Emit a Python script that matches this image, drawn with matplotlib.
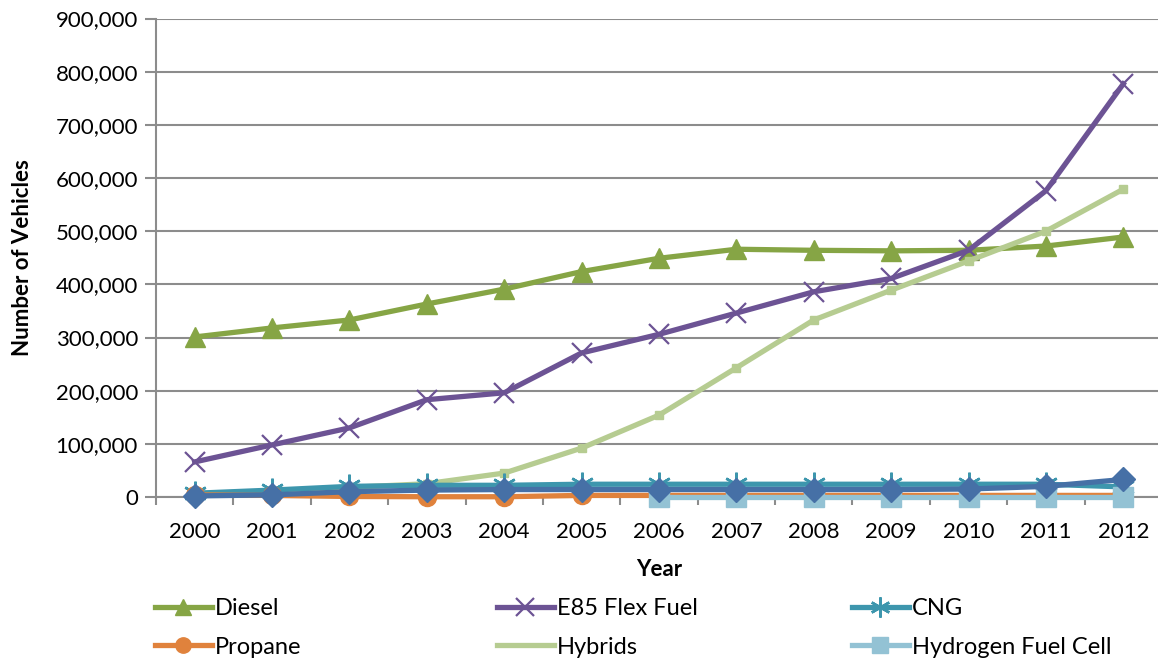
import matplotlib
matplotlib.use('Agg')
import matplotlib.pyplot as plt
from matplotlib.ticker import FuncFormatter, FixedLocator, NullFormatter

years = [2000, 2001, 2002, 2003, 2004, 2005, 2006, 2007, 2008, 2009, 2010, 2011, 2012]

diesel   = [301000, 318000, 333000, 363000, 391000, 424000, 449000, 466000, 464000, 463000, 464000, 472000, 489000]
e85      = [66000, 98000, 130000, 183000, 196000, 271000, 306000, 346000, 386000, 411000, 464000, 576000, 777000]
cng      = [7000, 13000, 20000, 22000, 22000, 24000, 24000, 24000, 24000, 24000, 24000, 24000, 19000]
propane  = [4000, 3000, 1000, 500, 500, 3000, 3000, 3000, 3000, 3000, 3000, 3000, 3000]
hybrids  = [6000, 11000, 18000, 25000, 45000, 92000, 154000, 243000, 333000, 389000, 444000, 500000, 579000]
hydrogen = [None, None, None, None, None, None, 300, 300, 300, 300, 300, 300, 300]
electric = [2000, 4000, 10000, 13000, 14000, 14000, 14000, 14000, 14000, 14000, 15000, 20000, 33000]

C_DIESEL   = '#86a545'
C_E85      = '#6c5394'
C_CNG      = '#3d96ad'
C_PROPANE  = '#e0823c'
C_HYBRIDS  = '#b6cc91'
C_HYDROGEN = '#93c2d4'
C_ELECTRIC = '#4670a6'
GRID       = '#8c8c8c'

plt.rcParams['font.family'] = ['Lato', 'DejaVu Sans']

fig = plt.figure(figsize=(11.58, 6.63), dpi=100)
ax = fig.add_axes([156 / 1158, 1 - 497 / 663, 1006 / 1158, (497 - 18.5) / 663])

x = list(range(len(years)))
hy = [float('nan') if v is None else v for v in hydrogen]
lw = 3.8
kw = dict(clip_on=False)

h_diesel, = ax.plot(x, diesel, color=C_DIESEL, lw=lw, marker='^', ms=14,
                    label='Diesel', zorder=3, **kw)
h_e85, = ax.plot(x, e85, color=C_E85, lw=lw, marker='x', ms=15, mew=1.6,
                 label='E85 Flex Fuel', zorder=4, **kw)
h_cng, = ax.plot(x, cng, color=C_CNG, lw=lw, marker=(6, 2, 0), ms=17, mew=1.8,
                 label='CNG', zorder=5, **kw)
h_prop, = ax.plot(x, propane, color=C_PROPANE, lw=lw, marker='o', ms=13,
                  label='Propane', zorder=5, **kw)
h_hyb, = ax.plot(x, hybrids, color=C_HYBRIDS, lw=lw, label='Hybrids', zorder=4.5, **kw)
ax.plot(x, hybrids, ls='none', color=C_HYBRIDS, marker='s', ms=6, zorder=4.5, **kw)
h_h2, = ax.plot(x, hy, color=C_HYDROGEN, lw=lw, marker='s', ms=14,
                label='Hydrogen Fuel Cell', zorder=6, **kw)
ax.plot(x, electric, color=C_ELECTRIC, lw=lw, marker='D', ms=12, zorder=7, **kw)

# category axis: ticks sit between years, labels under each year
ax.set_xlim(-0.5, len(years) - 0.5)
ax.xaxis.set_major_locator(FixedLocator([i - 0.5 for i in range(len(years) + 1)]))
ax.xaxis.set_major_formatter(NullFormatter())
ax.xaxis.set_minor_locator(FixedLocator(x))
ax.set_xticklabels([str(y) for y in years], minor=True)
ax.tick_params(axis='x', which='major', length=6, width=1.5, color=GRID, direction='out')
ax.tick_params(axis='x', which='minor', length=0, pad=18, labelsize=16)

ax.set_ylim(0, 900000)
ax.set_yticks(range(0, 900001, 100000))
ax.yaxis.set_major_formatter(FuncFormatter(lambda v, p: f'{int(v):,}'))
ax.tick_params(axis='y', length=8, width=1.5, color=GRID, direction='out', pad=5, labelsize=16)

ax.grid(True, axis='y', color=GRID, lw=1.5)
ax.set_axisbelow(True)
for side in ('top', 'right'):
    ax.spines[side].set_visible(False)
for side in ('left', 'bottom'):
    ax.spines[side].set_color(GRID)
    ax.spines[side].set_linewidth(1.5)

ax.set_xlabel('Year', fontsize=16, fontweight='bold', labelpad=12)
ax.set_ylabel('Number of Vehicles', fontsize=16, fontweight='bold', labelpad=16)

# three legend columns, evenly spaced under the plot
cols = [([h_diesel, h_prop], 155), ([h_e85, h_hyb], 497), ([h_cng, h_h2], 852)]
for handles, px in cols:
    fig.legend(handles=handles, labels=[h.get_label() for h in handles],
               loc='upper left', bbox_to_anchor=(px / 1158, 1 - 598 / 663),
               frameon=False, fontsize=17, handlelength=2.4, handletextpad=0.15,
               labelspacing=0.75, borderpad=0, borderaxespad=0, numpoints=1,
               markerscale=0.85)

fig.savefig('out.png', dpi=100, facecolor='white')
